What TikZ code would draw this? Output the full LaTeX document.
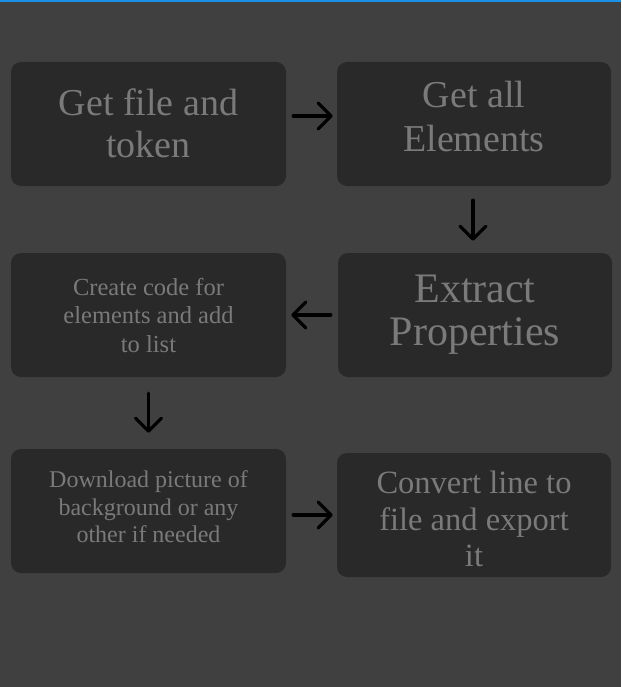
\documentclass[tikz,border=0pt]{standalone}
\usepackage{fontspec}
\setmainfont{Liberation Serif}
\usetikzlibrary{arrows.meta}
\definecolor{bgc}{HTML}{404040}
\definecolor{boxc}{HTML}{292929}
\definecolor{txtc}{HTML}{7A7A7A}
\definecolor{barc}{HTML}{1C8FE6}
\tikzset{
  box/.style={rectangle, rounded corners=10pt, fill=boxc, inner sep=0pt, minimum width=275pt, minimum height=124pt},
  lbl/.style={text=txtc, align=center, inner sep=0pt},
  flow/.style={draw=black, line width=3.2pt, line cap=round, arrows={-Straight Barb[length=13pt,width=26pt,line width=3.2pt,round]}}
}
\begin{document}
\begin{tikzpicture}[x=1pt,y=-1pt]
\useasboundingbox (0,0) rectangle (621,687);
\fill[bgc] (0,0) rectangle (621,687);
\fill[barc] (0,0) rectangle (621,2.5);
\node[box] (b1) at (148.5,124) {};
\node[box, minimum width=274pt] (b2) at (474,124) {};
\node[box] (b3) at (148.5,315) {};
\node[box, minimum width=274pt] (b4) at (475,315) {};
\node[box] (b5) at (148.5,511) {};
\node[box, minimum width=274pt] (b6) at (474,515) {};
\node[lbl, font=\fontsize{38}{42}\selectfont, yshift=1pt] (t1) at (b1) {Get file and\\token};
\node[lbl, font=\fontsize{38}{44}\selectfont, yshift=7pt] (t2) at (b2) {Get all\\Elements};
\node[lbl, font=\fontsize{24.5}{28.5}\selectfont] (t3) at (b3) {Create code for\\elements and add\\to list};
\node[lbl, font=\fontsize{42}{43}\selectfont] (t4) at (b4) {Extract\\Properties};
\node[lbl, font=\fontsize{24}{27.5}\selectfont, yshift=4pt] (t5) at (b5) {Download picture of\\background or any\\other if needed};
\node[lbl, font=\fontsize{32.5}{36.5}\selectfont, yshift=-4pt] (t6) at (b6) {Convert line to\\file and export\\it};
\draw[flow] ([shift={(7,-8)}]b1.east) -- ([shift={(-4,-8)}]b2.west);
\draw[flow] ([shift={(-1,14)}]b2.south) -- ([shift={(-2,-12)}]b4.north);
\draw[flow] ([xshift=-7pt]b4.west) -- ([xshift=5pt]b3.east);
\draw[flow] ([yshift=-16pt]b3.south) -- ([yshift=16pt]b5.north);
\draw[flow] ([shift={(7,4)}]b5.east) -- ([xshift=-4pt]b6.west);
\end{tikzpicture}
\end{document}
